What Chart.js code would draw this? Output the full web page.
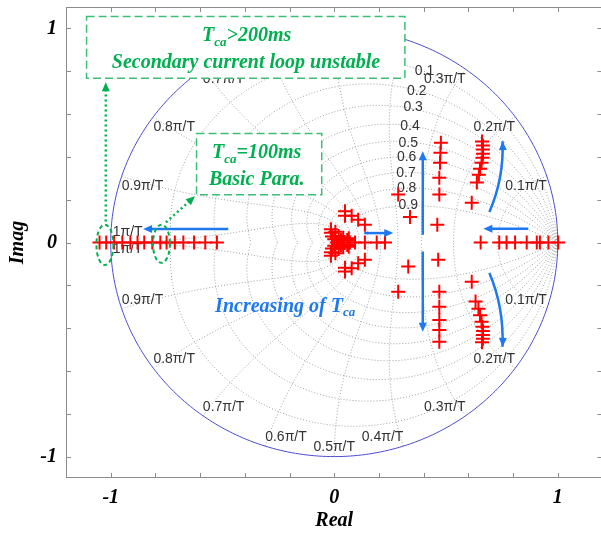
<!DOCTYPE html>
<html>
<head>
<meta charset="utf-8">
<script src="https://cdn.jsdelivr.net/npm/chart.js@4.4.0/dist/chart.umd.min.js"></script>
<style>
    html, body { margin: 0; padding: 0; background: #fff; overflow: hidden; }
    #wrap { width: 601px; height: 533px; overflow: hidden; }
</style>
</head>
<body>
<div id="wrap"><canvas id="rootLocus" width="603" height="533"></canvas></div>
<script>
// Poles (real, imag)
var leftRealPoles = [[-1.05, 0], [-1.02, 0], [-0.985, 0], [-0.948, 0], [-0.912, 0], [-0.88, 0], [-0.85, 0],
    [-0.814, 0], [-0.778, 0], [-0.75, 0], [-0.713, 0], [-0.675, 0], [-0.627, 0], [-0.577, 0], [-0.525, 0]];
var originPoles = [[-0.015, 0.062], [-0.015, 0.045], [-0.01, 0.028], [0.0, 0.015], [0.012, 0.0], [0.0, -0.015],
    [-0.01, -0.028], [-0.015, -0.045], [-0.015, -0.062], [0.03, 0.012], [0.045, 0.0], [0.058, 0.012], [0.07, 0.0],
    [0.03, -0.012], [0.058, -0.012], [0.093, 0], [0.137, 0], [0.19, 0], [0.227, 0],
    [0.02, 0.03], [0.02, -0.03], [0.04, 0.022], [0.04, -0.022], [0.065, 0.02], [0.065, -0.02], [0.005, 0.05], [0.005, -0.05],
    [0.048, 0.146], [0.048, 0.125], [0.078, 0.125], [0.107, 0.106], [0.137, 0.083],
    [0.048, -0.136], [0.048, -0.118], [0.078, -0.12], [0.107, -0.097], [0.137, -0.081]];
var middlePoles = [[0.477, 0.466], [0.475, 0.419], [0.473, 0.372], [0.47, 0.302], [0.47, 0.224], [0.461, 0.083],
    [0.465, -0.081], [0.47, -0.23], [0.47, -0.3], [0.47, -0.362], [0.47, -0.409], [0.47, -0.464]];
var scatteredPoles = [[0.286, 0.224], [0.339, 0.119], [0.331, -0.112], [0.286, -0.23]];
var rightPoles = [[0.661, 0.472], [0.665, 0.453], [0.665, 0.434], [0.665, 0.415], [0.663, 0.396], [0.659, 0.373],
    [0.652, 0.345], [0.647, 0.317], [0.638, 0.28], [0.615, 0.186],
    [0.615, -0.183], [0.632, -0.276], [0.645, -0.31], [0.652, -0.34], [0.659, -0.37], [0.663, -0.393],
    [0.665, -0.413], [0.665, -0.432], [0.665, -0.45], [0.661, -0.466]];
var rightRealPoles = [[0.655, 0], [0.738, 0], [0.771, 0], [0.809, 0], [0.861, 0], [0.906, 0], [0.92, 0], [0.958, 0], [1.002, 0]];

// Axis ticks
var xTickValues = [-1, -0.8, -0.6, -0.4, -0.2, 0, 0.2, 0.4, 0.6, 0.8, 1];
var xTickLabels = ['-1', '', '', '', '', '0', '', '', '', '', '1'];
var yTickValues = [-1, -0.8, -0.6, -0.4, -0.2, 0, 0.2, 0.4, 0.6, 0.8, 1];
var yTickLabels = ['-1', '', '', '', '', '0', '', '', '', '', '1'];

// zgrid: damping ratios and natural frequencies (x pi/T)
var zetaValues = [0.1, 0.2, 0.3, 0.4, 0.5, 0.6, 0.7, 0.8, 0.9];
var zetaLabels = ['0.1', '0.2', '0.3', '0.4', '0.5', '0.6', '0.7', '0.8', '0.9'];
var wnValues = [0.1, 0.2, 0.3, 0.4, 0.5, 0.6, 0.7, 0.8, 0.9, 1.0];
var wnLabels = ['0.1π/T', '0.2π/T', '0.3π/T', '0.4π/T', '0.5π/T', '0.6π/T', '0.7π/T', '0.8π/T', '0.9π/T', '1π/T'];

var serif = '"Liberation Serif", "Times New Roman", serif';
var sans = '"Liberation Sans", Arial, sans-serif';
var GREEN = '#00b050', BLUE = '#1e78f0';

// where the damping labels sit (data coords)
var zetaLabelPos = [[0.404, 0.801], [0.369, 0.705], [0.353, 0.63], [0.339, 0.544], [0.331, 0.466],
    [0.324, 0.398], [0.321, 0.325], [0.324, 0.252], [0.331, 0.173]];

function px(chart, x, y) {
    return [chart.scales.x.getPixelForValue(x), chart.scales.y.getPixelForValue(y)];
}

function strokeCurve(ctx, chart, fn, n) {
    ctx.beginPath();
    for (var i = 0; i <= n; i++) {
        var p = fn(i / n), q = px(chart, p[0], p[1]);
        if (i === 0) ctx.moveTo(q[0], q[1]); else ctx.lineTo(q[0], q[1]);
    }
    ctx.stroke();
}

// zgrid dotted lines, unit circle and labels
var zgridPlugin = {
    id: 'zgrid',
    beforeDatasetsDraw: function (chart) {
        var ctx = chart.ctx, a = chart.chartArea;
        ctx.save();
        ctx.beginPath();
        ctx.rect(a.left, a.top, a.right - a.left, a.bottom - a.top);
        ctx.clip();
        ctx.strokeStyle = '#a0a0a0';
        ctx.lineWidth = 1;
        ctx.setLineDash([1, 2]);
        zetaValues.forEach(function (z) {
            var q = Math.sqrt(1 - z * z), tMax = Math.PI / q;
            [1, -1].forEach(function (s) {
                strokeCurve(ctx, chart, function (u) {
                    var t = tMax * u, r = Math.exp(-z * t);
                    return [r * Math.cos(t * q), s * r * Math.sin(t * q)];
                }, 150);
            });
        });
        wnValues.forEach(function (k) {
            var w = k * Math.PI;
            [1, -1].forEach(function (s) {
                strokeCurve(ctx, chart, function (u) {
                    var z = Math.sin(u * Math.PI / 2), r = Math.exp(-z * w), ang = w * Math.sqrt(1 - z * z);
                    return [r * Math.cos(ang), s * r * Math.sin(ang)];
                }, 150);
            });
        });
        // unit circle
        ctx.setLineDash([]);
        ctx.strokeStyle = '#4b4bd2';
        strokeCurve(ctx, chart, function (u) {
            return [Math.cos(u * 2 * Math.PI), Math.sin(u * 2 * Math.PI)];
        }, 360);

        // labels
        ctx.fillStyle = '#333';
        ctx.font = '14px ' + sans;
        wnValues.forEach(function (k, i) {
            var th = k * Math.PI;
            [1, -1].forEach(function (s) {
                var p = px(chart, Math.cos(th), s * Math.sin(th));
                var c = Math.cos(th);
                ctx.textAlign = c > 0.01 ? 'right' : (c < -0.01 ? 'left' : 'center');
                if (k === 1.0) {
                    ctx.textBaseline = s > 0 ? 'bottom' : 'top';
                    ctx.fillText(wnLabels[i], p[0] + 2, s > 0 ? p[1] - 3 : p[1]);
                } else {
                    ctx.textBaseline = s > 0 ? 'top' : 'bottom';
                    ctx.fillText(wnLabels[i], p[0], p[1] + (s > 0 ? 3 : -2));
                }
            });
        });
        ctx.textAlign = 'center';
        ctx.textBaseline = 'middle';
        zetaLabels.forEach(function (t, i) {
            var p = px(chart, zetaLabelPos[i][0], zetaLabelPos[i][1]);
            ctx.fillText(t, p[0], p[1]);
        });
        ctx.restore();
    }
};

// text with a subscript part, e.g. T_ca
function richText(ctx, parts, x, y, size, color, align) {
    var widths = parts.map(function (p) {
        ctx.font = 'italic bold ' + (p.sub ? size * 0.65 : size) + 'px ' + serif;
        return ctx.measureText(p.t).width;
    });
    var total = widths.reduce(function (s, w) { return s + w; }, 0);
    var cx = align === 'left' ? x : x - total / 2;
    ctx.fillStyle = color;
    ctx.textAlign = 'left';
    ctx.textBaseline = 'alphabetic';
    parts.forEach(function (p, i) {
        ctx.font = 'italic bold ' + (p.sub ? size * 0.65 : size) + 'px ' + serif;
        ctx.fillText(p.t, cx, y + (p.sub ? size * 0.22 : 0));
        cx += widths[i];
    });
}

function head(ctx, x0, y0, x1, y1, len, wid) {
    var ang = Math.atan2(y1 - y0, x1 - x0), c = Math.cos(ang), s = Math.sin(ang);
    ctx.beginPath();
    ctx.moveTo(x1, y1);
    ctx.lineTo(x1 - len * c + wid / 2 * s, y1 - len * s - wid / 2 * c);
    ctx.lineTo(x1 - len * c - wid / 2 * s, y1 - len * s + wid / 2 * c);
    ctx.closePath();
    ctx.fill();
}

function straightArrow(ctx, chart, from, to, color, dash, width) {
    var p0 = px(chart, from[0], from[1]), p1 = px(chart, to[0], to[1]);
    var ang = Math.atan2(p1[1] - p0[1], p1[0] - p0[0]);
    ctx.strokeStyle = color;
    ctx.fillStyle = color;
    ctx.lineWidth = width;
    ctx.setLineDash(dash);
    ctx.beginPath();
    ctx.moveTo(p0[0], p0[1]);
    ctx.lineTo(p1[0] - 7 * Math.cos(ang), p1[1] - 7 * Math.sin(ang));
    ctx.stroke();
    ctx.setLineDash([]);
    head(ctx, p0[0], p0[1], p1[0], p1[1], 9, 8);
}

function curvedArrow(ctx, chart, from, ctrl, to, color) {
    var p0 = px(chart, from[0], from[1]), c = px(chart, ctrl[0], ctrl[1]), p1 = px(chart, to[0], to[1]);
    ctx.strokeStyle = color;
    ctx.fillStyle = color;
    ctx.lineWidth = 2.5;
    ctx.beginPath();
    ctx.moveTo(p0[0], p0[1]);
    ctx.quadraticCurveTo(c[0], c[1], p1[0], p1[1]);
    ctx.stroke();
    head(ctx, c[0], c[1], p1[0], p1[1], 9, 8);
}

function dashedBox(ctx, chart, x0, y0, x1, y1) {
    var a = px(chart, x0, y0), b = px(chart, x1, y1);
    ctx.fillStyle = '#fff';
    ctx.fillRect(a[0], a[1], b[0] - a[0], b[1] - a[1]);
    ctx.strokeStyle = '#3cbf74';
    ctx.lineWidth = 1.5;
    ctx.setLineDash([8, 4]);
    ctx.strokeRect(a[0], a[1], b[0] - a[0], b[1] - a[1]);
    ctx.setLineDash([]);
}

function dashedEllipse(ctx, chart, cx, cy, rx, ry) {
    var c = px(chart, cx, cy), e = px(chart, cx + rx, cy + ry);
    ctx.strokeStyle = GREEN;
    ctx.lineWidth = 2;
    ctx.setLineDash([4, 3]);
    ctx.beginPath();
    ctx.ellipse(c[0], c[1], Math.abs(e[0] - c[0]), Math.abs(c[1] - e[1]), 0, 0, 2 * Math.PI);
    ctx.stroke();
    ctx.setLineDash([]);
}

var notesPlugin = {
    id: 'notes',
    afterDatasetsDraw: function (chart) {
        var ctx = chart.ctx;
        ctx.save();
        // blue arrows
        straightArrow(ctx, chart, [-0.474, 0.063], [-0.855, 0.063], BLUE, [], 2.5);
        straightArrow(ctx, chart, [0.134, 0.044], [0.264, 0.044], BLUE, [], 2.5);
        straightArrow(ctx, chart, [0.396, 0.036], [0.396, 0.426], BLUE, [], 2.5);
        straightArrow(ctx, chart, [0.396, -0.042], [0.396, -0.417], BLUE, [], 2.5);
        straightArrow(ctx, chart, [0.868, 0.064], [0.667, 0.064], BLUE, [], 2.5);
        curvedArrow(ctx, chart, [0.694, 0.143], [0.759, 0.298], [0.753, 0.473], BLUE);
        curvedArrow(ctx, chart, [0.694, -0.142], [0.759, -0.301], [0.753, -0.487], BLUE);

        // green notes
        dashedBox(ctx, chart, -1.108, 1.056, 0.316, 0.767);
        var t = px(chart, -0.392, 0.973);
        richText(ctx, [{ t: 'T' }, { t: 'ca', sub: true }, { t: '>200ms' }], t[0], t[1] + 7, 20, GREEN, 'center');
        t = px(chart, -0.395, 0.847);
        richText(ctx, [{ t: 'Secondary current loop unstable' }], t[0], t[1] + 7, 20, GREEN, 'center');

        dashedBox(ctx, chart, -0.616, 0.509, -0.056, 0.2235);
        t = px(chart, -0.347, 0.426);
        richText(ctx, [{ t: 'T' }, { t: 'ca', sub: true }, { t: '=100ms' }], t[0], t[1] + 7, 20, GREEN, 'center');
        t = px(chart, -0.347, 0.302);
        richText(ctx, [{ t: 'Basic Para.' }], t[0], t[1] + 7, 20, GREEN, 'center');

        dashedEllipse(ctx, chart, -1.026, -0.011, 0.038, 0.094);
        dashedEllipse(ctx, chart, -0.773, -0.006, 0.038, 0.089);
        straightArrow(ctx, chart, [-1.022, 0.098], [-1.022, 0.748], GREEN, [2, 3], 2.5);
        straightArrow(ctx, chart, [-0.753, 0.094], [-0.623, 0.216], GREEN, [2, 3], 2.5);

        t = px(chart, -0.533, -0.323);
        richText(ctx, [{ t: 'Increasing of T' }, { t: 'ca', sub: true }], t[0], t[1], 20, BLUE, 'left');
        ctx.restore();
    },
    afterDraw: function (chart) {
        // box frame with inward ticks
        var ctx = chart.ctx, a = chart.chartArea, sx = chart.scales.x, sy = chart.scales.y;
        ctx.save();
        ctx.strokeStyle = '#8c8c8c';
        ctx.lineWidth = 1;
        ctx.strokeRect(a.left + 0.5, a.top + 0.5, a.right - a.left - 1, a.bottom - a.top - 1);
        ctx.beginPath();
        xTickValues.forEach(function (v) {
            var x = Math.round(sx.getPixelForValue(v)) + 0.5;
            ctx.moveTo(x, a.top); ctx.lineTo(x, a.top + 5);
            ctx.moveTo(x, a.bottom); ctx.lineTo(x, a.bottom - 5);
        });
        yTickValues.forEach(function (v) {
            var y = Math.round(sy.getPixelForValue(v)) + 0.5;
            ctx.moveTo(a.left, y); ctx.lineTo(a.left + 5, y);
            ctx.moveTo(a.right, y); ctx.lineTo(a.right - 5, y);
        });
        ctx.stroke();
        ctx.restore();
    }
};

function toPoints(pairs) {
    return pairs.map(function (p) { return { x: p[0], y: p[1] }; });
}

function poleSet(label, pairs) {
    return {
        label: label,
        data: toPoints(pairs),
        pointStyle: 'cross',
        pointRadius: 7,
        pointBorderWidth: 2,
        borderColor: '#ff0000',
        backgroundColor: '#ff0000',
        showLine: false
    };
}

var axisFont = { family: serif, size: 20, style: 'italic', weight: 'bold' };

new Chart(document.getElementById('rootLocus'), {
    type: 'scatter',
    data: {
        datasets: [
            poleSet('left real', leftRealPoles),
            poleSet('origin', originPoles),
            poleSet('middle', middlePoles),
            poleSet('scattered', scatteredPoles),
            poleSet('right', rightPoles),
            poleSet('right real', rightRealPoles)
        ]
    },
    options: {
        responsive: false,
        animation: false,
        events: [],
        layout: { autoPadding: false, padding: { top: 7, right: 0.5, left: 0, bottom: 0 } },
        plugins: { legend: { display: false }, tooltip: { enabled: false } },
        scales: {
            x: {
                type: 'linear', min: -1.2, max: 1.2,
                afterBuildTicks: function (scale) { scale.ticks = xTickValues.map(function (v) { return { value: v }; }); },
                afterFit: function (scale) { scale.height = 55; scale.paddingLeft = 0; scale.paddingRight = 0; },
                grid: { display: false, drawTicks: false },
                border: { display: false },
                ticks: {
                    autoSkip: false, maxRotation: 0, padding: 8, color: '#000', font: axisFont,
                    callback: function (v, i) { return xTickLabels[i]; }
                },
                title: { display: true, text: 'Real', color: '#000', font: axisFont, padding: { top: 0, bottom: 0 } }
            },
            y: {
                type: 'linear', min: -1.1, max: 1.1,
                afterBuildTicks: function (scale) { scale.ticks = yTickValues.map(function (v) { return { value: v }; }); },
                afterFit: function (scale) { scale.width = 66; scale.paddingTop = 0; scale.paddingBottom = 0; },
                grid: { display: false, drawTicks: false },
                border: { display: false },
                ticks: {
                    autoSkip: false, padding: 9, color: '#000', font: axisFont,
                    callback: function (v, i) { return yTickLabels[i]; }
                },
                title: { display: true, text: 'Imag', color: '#000', font: axisFont, padding: { top: 6, bottom: 0 } }
            }
        }
    },
    plugins: [zgridPlugin, notesPlugin]
});
</script>
</body>
</html>
